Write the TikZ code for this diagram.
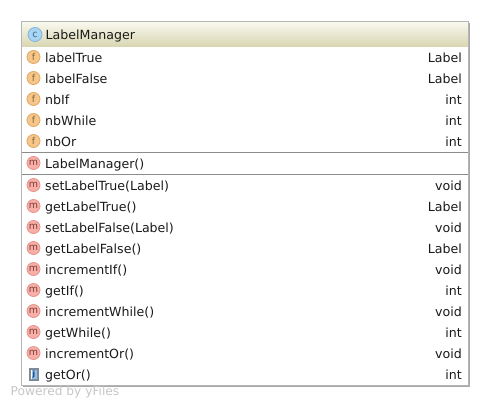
\documentclass[tikz,border=0pt]{standalone}
\usepackage{fontspec}
\setmainfont{DejaVu Sans}
\definecolor{hdrtop}{HTML}{F8F8EE}
\definecolor{hdrbot}{HTML}{D9D7B3}
\definecolor{boxline}{HTML}{B5B5B5}
\definecolor{shadowc}{HTML}{A8A8A8}
\definecolor{sepc}{HTML}{8C8C8C}
\definecolor{txt}{HTML}{1A1A1A}
\definecolor{F1}{HTML}{E0A860}\definecolor{F2}{HTML}{F6C68A}\definecolor{F3}{HTML}{8A6A3A}
\definecolor{M1}{HTML}{E8908A}\definecolor{M2}{HTML}{F7AFA8}\definecolor{M3}{HTML}{7A3A36}
\definecolor{C1}{HTML}{7FB4DC}\definecolor{C2}{HTML}{A9D5F2}\definecolor{C3}{HTML}{3A6A90}
\definecolor{J1}{HTML}{7E8A96}\definecolor{J2}{HTML}{8EC0EE}\definecolor{J3}{HTML}{1F3F70}
\tikzset{
  rowtext/.style={anchor=base west,inner sep=0pt,font=\fontsize{12.6}{14}\selectfont,text=txt},
  typetext/.style={anchor=base east,inner sep=0pt,font=\fontsize{12.6}{14}\selectfont,text=txt},
  icon/.style={circle,minimum size=13pt,inner sep=0pt,line width=0.8pt,font=\fontsize{9.5}{10}\selectfont},
  ficon/.style={icon,draw=F1,fill=F2,text=F3},
  micon/.style={icon,draw=M1,fill=M2,text=M3},
  cicon/.style={icon,draw=C1,fill=C2,text=C3,minimum size=14pt},
}
\begin{document}
\begin{tikzpicture}[x=1pt,y=-1pt]
\useasboundingbox (0,0) rectangle (489,407);
\fill[white] (0,0) rectangle (489,407);
% shadow
\draw[shadowc,line width=1.3pt] (469.8,23) -- (469.8,386.8) -- (23,386.8);
% body
\fill[white] (21.5,21.5) rectangle (468.5,385.5);
\shade[top color=hdrtop,bottom color=hdrbot] (22,22) rectangle (468,46);
\draw[boxline,line width=1pt] (21.5,21.5) rectangle (468.5,385.5);
\draw[sepc,line width=1pt] (22,152.5) -- (468,152.5);
\draw[sepc,line width=1pt] (22,174.5) -- (468,174.5);
% header
\node[cicon] (cicon) at (35,34.5) {c};
\node[rowtext] (title) at (45.5,39.3) {LabelManager};
% fields
\foreach \n/\y/\t/\ty in {a/57/labelTrue/Label,b/78/labelFalse/Label,c/99/nbIf/int,d/120/nbWhile/int,e/141/nbOr/int}{
  \node[ficon] (f\n) at (33.5,\y) {f};
  \node[rowtext] (ft\n) at (45,\y+5) {\t};
  \node[typetext] (fy\n) at (462,\y+5) {\ty};
}
% constructor
\node[micon] (ctor) at (33.5,163) {m};
\node[rowtext] (ctort) at (45,168) {LabelManager()};
% methods
\foreach \n/\y/\t/\ty in {a/185/setLabelTrue(Label)/void,b/206/getLabelTrue()/Label,c/227/setLabelFalse(Label)/void,d/248/getLabelFalse()/Label,e/269/incrementIf()/void,f/290/getIf()/int,g/311/incrementWhile()/void,h/332/getWhile()/int,i/353/incrementOr()/void}{
  \node[micon] (m\n) at (33.5,\y) {m};
  \node[rowtext] (mt\n) at (45,\y+5) {\t};
  \node[typetext] (my\n) at (462,\y+5) {\ty};
}
% getOr: file icon
\fill[J1] (29,368) rectangle (38.5,381);
\fill[J2] (30.5,370) rectangle (36.5,379);
\fill[white] (30.5,370) rectangle (32,379);
\node[inner sep=0pt,font=\fontsize{7.5}{8}\selectfont\bfseries,text=J3] (jicon) at (33.9,374.7) {j};
\node[rowtext] (mtj) at (45,379) {getOr()};
\node[typetext] (myj) at (462,379) {int};
% watermark
\node[anchor=base west,inner sep=0pt,font=\fontsize{12.2}{14}\selectfont,text=black!22] (wm) at (10.5,395) {Powered by yFiles};
\end{tikzpicture}
\end{document}
